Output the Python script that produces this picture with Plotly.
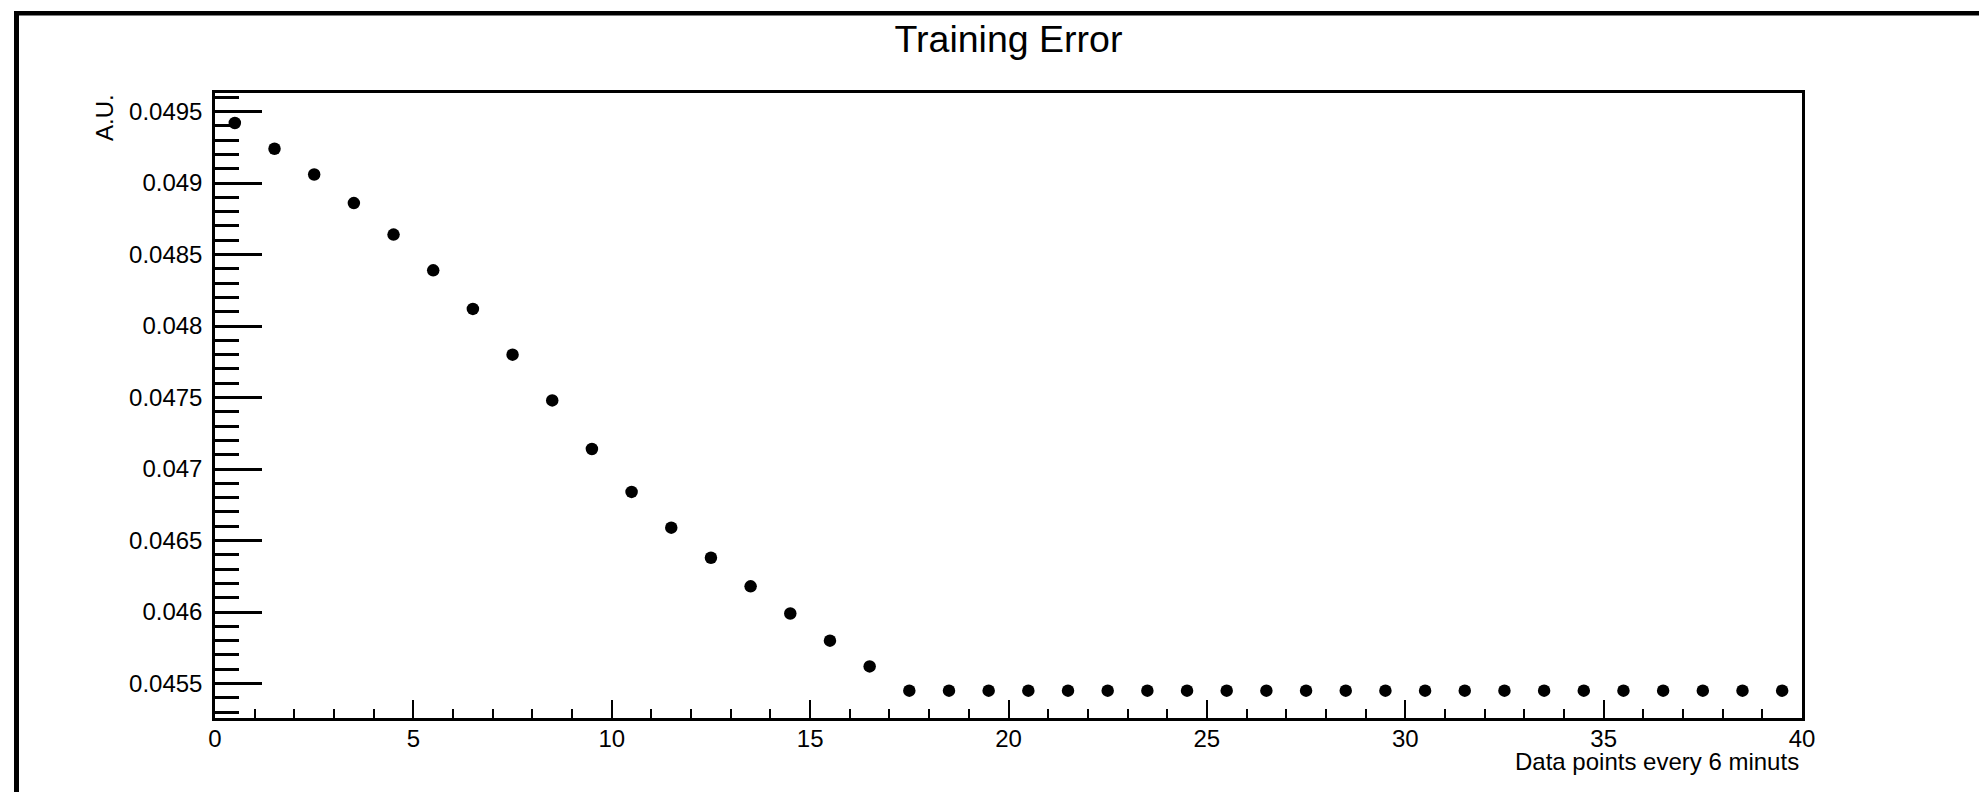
import plotly.graph_objects as go

# Training error sampled every 6 minutes (bin centres on the x axis)
sample_x = [0.5, 1.5, 2.5, 3.5, 4.5, 5.5, 6.5, 7.5, 8.5, 9.5,
            10.5, 11.5, 12.5, 13.5, 14.5, 15.5, 16.5, 17.5, 18.5, 19.5,
            20.5, 21.5, 22.5, 23.5, 24.5, 25.5, 26.5, 27.5, 28.5, 29.5,
            30.5, 31.5, 32.5, 33.5, 34.5, 35.5, 36.5, 37.5, 38.5, 39.5]
training_error = [0.04942, 0.04924, 0.04906, 0.04886, 0.04864, 0.04839, 0.04812, 0.04780,
                  0.04748, 0.04714, 0.04684, 0.04659, 0.04638, 0.04618, 0.04599, 0.04580,
                  0.04562, 0.04545, 0.04545, 0.04545, 0.04545, 0.04545, 0.04545, 0.04545,
                  0.04545, 0.04545, 0.04545, 0.04545, 0.04545, 0.04545, 0.04545, 0.04545,
                  0.04545, 0.04545, 0.04545, 0.04545, 0.04545, 0.04545, 0.04545, 0.04545]

y_tick_vals = [0.0455, 0.046, 0.0465, 0.047, 0.0475, 0.048, 0.0485, 0.049, 0.0495]
y_tick_text = ["0.0455", "0.046", "0.0465", "0.047", "0.0475", "0.048", "0.0485", "0.049", "0.0495"]
x_tick_vals = [0, 5, 10, 15, 20, 25, 30, 35, 40]
x_tick_text = ["0", "5", "10", "15", "20", "25", "30", "35", "40"]

title_text = "Training Error"
x_title = "Data points every 6 minuts"
y_title = "A.U."

W, H = 1979, 792
L, R, T, B = 215, 177, 93, 74
plot_w = W - L - R
plot_h = H - T - B

FONT = "Liberation Sans, Arial, Helvetica, sans-serif"


def px_x(px):
    return (px - L) / plot_w


def px_y(py):
    return (H - B - py) / plot_h


fig = go.Figure()
fig.add_trace(go.Scatter(
    x=sample_x, y=training_error, mode="markers",
    marker=dict(color="black", size=12.5, line=dict(width=0)),
    showlegend=False, hoverinfo="x+y",
))

fig.update_layout(
    width=W, height=H, autosize=False,
    margin=dict(l=L, r=R, t=T, b=B, pad=0),
    paper_bgcolor="white", plot_bgcolor="white",
    font=dict(family=FONT, color="black", size=24),
    title=dict(text=title_text, x=0.5, xref="paper", xanchor="center",
               y=1 - 39 / H, yref="container", yanchor="middle",
               font=dict(family=FONT, size=37.5, color="black")),
)

fig.update_xaxes(
    range=[0, 40], showgrid=False, zeroline=False,
    showline=True, linecolor="black", linewidth=2.5, mirror=True,
    ticks="inside", ticklen=18, tickwidth=2.2, tickcolor="black",
    tickvals=x_tick_vals, ticktext=x_tick_text,
    tickfont=dict(family=FONT, size=24, color="black"),
    ticklabelstandoff=-3,
    minor=dict(dtick=1, tick0=0, ticks="inside", ticklen=9, tickwidth=2.2, tickcolor="black", showgrid=False),
)

fig.update_yaxes(
    range=[0.045259, 0.04963], showgrid=False, zeroline=False,
    showline=True, linecolor="black", linewidth=2.5, mirror=True,
    ticks="inside", ticklen=47, tickwidth=2.5, tickcolor="black",
    tickvals=y_tick_vals, ticktext=y_tick_text,
    tickfont=dict(family=FONT, size=24, color="black"),
    ticklabelstandoff=5,
    minor=dict(dtick=0.0001, tick0=0.0455, ticks="inside", ticklen=24, tickwidth=2.5, tickcolor="black", showgrid=False),
)

# Axis titles: x title right-aligned under the axis end, y title rotated at the top
fig.add_annotation(text=x_title, xref="paper", yref="paper",
                   x=px_x(1801), y=px_y(761), xanchor="right", yanchor="middle",
                   showarrow=False, font=dict(family=FONT, size=24, color="black"))
fig.add_annotation(text=y_title, xref="paper", yref="paper", textangle=-90,
                   x=px_x(104.5), y=px_y(92), xanchor="center", yanchor="top",
                   showarrow=False, font=dict(family=FONT, size=24, color="black"))

# Canvas border along the top and left edges
fig.add_shape(type="line", xref="paper", yref="paper",
              x0=px_x(14), x1=px_x(W + 5), y0=px_y(13.3), y1=px_y(13.3),
              line=dict(color="black", width=4.5), layer="above")
fig.add_shape(type="line", xref="paper", yref="paper",
              x0=px_x(16.5), x1=px_x(16.5), y0=px_y(11), y1=px_y(H + 5),
              line=dict(color="black", width=5), layer="above")

fig.write_html("out.html")
